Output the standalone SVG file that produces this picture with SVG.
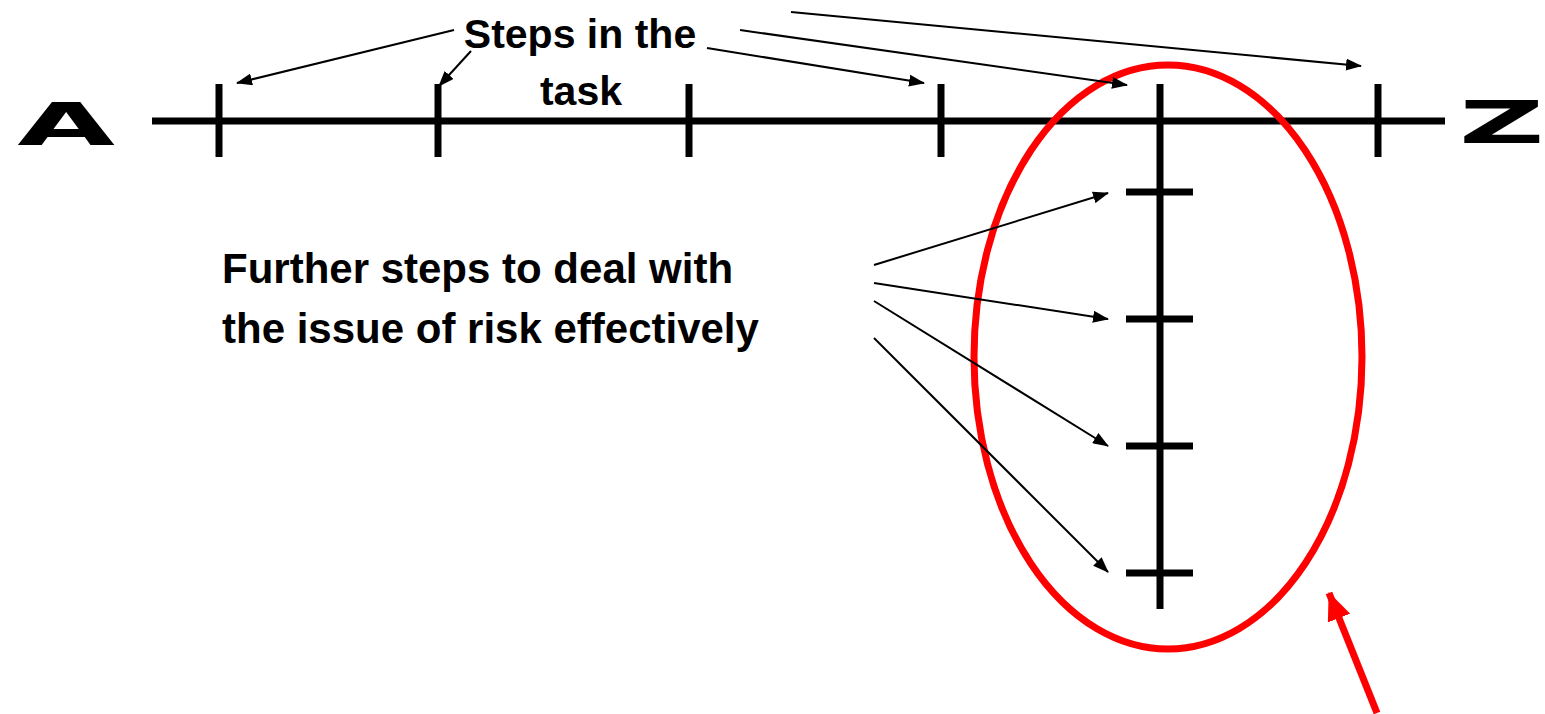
<svg xmlns="http://www.w3.org/2000/svg" width="1545" height="714" viewBox="0 0 1545 714">
<style>
.thick{stroke:#000;stroke-width:7;fill:none}
.tick{stroke:#000;stroke-width:7;fill:none}
.conn{stroke:#000;stroke-width:2;fill:none;marker-end:url(#ah)}
.lbl{font-family:"Liberation Sans",Arial,sans-serif;font-weight:bold;font-size:41px;fill:#000}
.lbl2{font-family:"Liberation Sans",Arial,sans-serif;font-weight:bold;font-size:42px;fill:#000}
.big{font-family:"DejaVu Sans",sans-serif;font-weight:bold;font-size:59px;fill:#000}
</style>
<defs>
<marker id="ah" markerUnits="userSpaceOnUse" markerWidth="16" markerHeight="12" refX="15" refY="6" orient="auto">
<path d="M0,0 L16,6 L0,12 z" fill="#000"/>
</marker>
<marker id="rah" markerUnits="userSpaceOnUse" markerWidth="28" markerHeight="24" refX="27" refY="12" orient="auto">
<path d="M0,0 L28,12 L0,24 z" fill="#f00"/>
</marker>
</defs>
<rect width="1545" height="714" fill="#fff"/>
<g id="endA"><text class="big" text-anchor="middle" transform="translate(66,145) scale(2.14,1)">A</text></g>
<g id="endZ"><text class="big" transform="translate(1459,143) scale(2.0,1)">Z</text></g>
<g id="timeline">
<line class="thick" x1="152" y1="121" x2="1445" y2="121"/>
<line class="tick" x1="219" y1="84" x2="219" y2="157"/>
<line class="tick" x1="438" y1="84" x2="438" y2="157"/>
<line class="tick" x1="689" y1="84" x2="689" y2="157"/>
<line class="tick" x1="941" y1="84" x2="941" y2="157"/>
<line class="tick" x1="1378" y1="84" x2="1378" y2="157"/>
</g>
<g id="substeps">
<line class="thick" x1="1160" y1="84" x2="1160" y2="609"/>
<line class="tick" x1="1126" y1="192" x2="1193" y2="192"/>
<line class="tick" x1="1126" y1="319" x2="1193" y2="319"/>
<line class="tick" x1="1126" y1="446" x2="1193" y2="446"/>
<line class="tick" x1="1126" y1="573" x2="1193" y2="573"/>
</g>
<g id="highlight">
<ellipse cx="1168" cy="357" rx="194" ry="292" fill="none" stroke="#f00" stroke-width="7"/>
</g>
<g id="label-steps">
<text class="lbl" x="580" y="48" text-anchor="middle">Steps in the</text>
<text class="lbl" x="581" y="105" text-anchor="middle">task</text>
</g>
<g id="label-further">
<text class="lbl2" x="222" y="283">Further steps to deal with</text>
<text class="lbl2" x="222" y="343">the issue of risk effectively</text>
</g>
<g id="connectors">
<line class="conn" x1="454" y1="30" x2="237" y2="83"/>
<line class="conn" x1="471" y1="51" x2="439" y2="86"/>
<line class="conn" x1="707" y1="48" x2="924" y2="83"/>
<line class="conn" x1="740" y1="30" x2="1127" y2="85"/>
<line class="conn" x1="791" y1="12" x2="1361" y2="66"/>
<line class="conn" x1="874" y1="265" x2="1108" y2="193"/>
<line class="conn" x1="874" y1="283" x2="1108" y2="319"/>
<line class="conn" x1="874" y1="301" x2="1108" y2="446"/>
<line class="conn" x1="874" y1="338" x2="1108" y2="572"/>
<line x1="1377" y1="713" x2="1329" y2="593" stroke="#f00" stroke-width="7" marker-end="url(#rah)"/>
</g>
</svg>
